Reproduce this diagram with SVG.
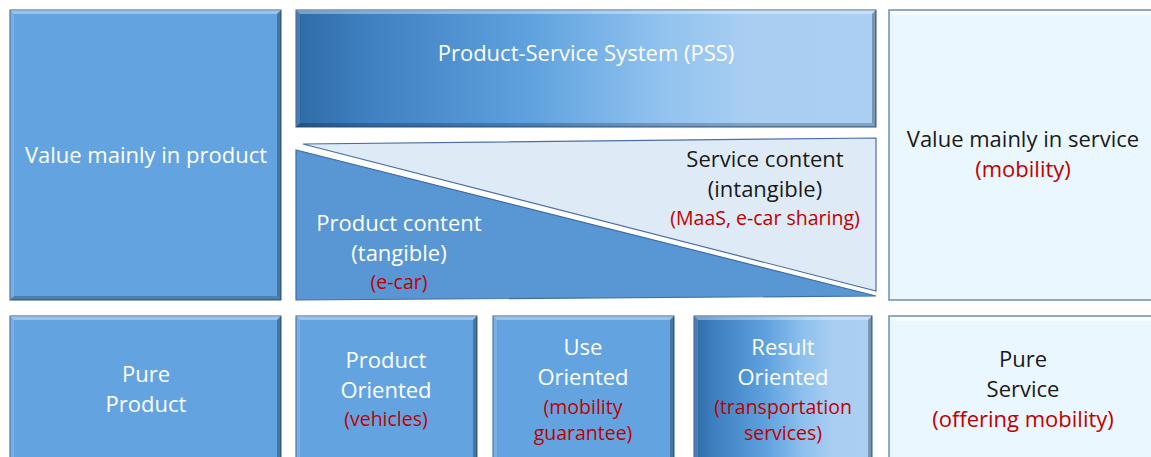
<svg xmlns="http://www.w3.org/2000/svg" width="1151" height="457" viewBox="0 0 1151 457">
<defs>
<linearGradient id="pssGrad" x1="0" y1="0" x2="1" y2="0">
<stop offset="0" stop-color="#2E6BA6"/>
<stop offset="0.12" stop-color="#3F80C0"/>
<stop offset="0.4" stop-color="#5EA1DE"/>
<stop offset="0.62" stop-color="#8FC1EE"/>
<stop offset="0.78" stop-color="#A9CEF2"/>
<stop offset="1" stop-color="#AACFF2"/>
</linearGradient>
<style>
.blue{fill:#63A4E0;stroke:#2F5B88;stroke-width:1}
.grad{fill:url(#pssGrad);stroke:#2F5B88;stroke-width:1}
.light{fill:#EBF7FE;stroke:#6F8DB5;stroke-width:1.5}
.bt{fill:#FFFFFF;fill-opacity:0.35}
.bl{fill:#FFFFFF;fill-opacity:0.12}
.br{fill:#000000;fill-opacity:0.28}
.bb{fill:#000000;fill-opacity:0.22}
.lt{fill:#FFFFFF;fill-opacity:0.6}
text{font-family:"Open Sans","Noto Sans","Liberation Sans",sans-serif;text-anchor:middle;font-size:22px}
.w{fill:#FFFFFF}
.k{fill:#1A1A1A}
.r{fill:#C00000}
.s{font-size:19.5px}
</style>
</defs>

<g id="value-product">
<rect class="blue" x="10" y="10" width="271" height="290"/>
<polygon class="bt" points="10,10 281,10 277,14 14,14"/>
<polygon class="bl" points="10,10 14,14 14,296 10,300"/>
<polygon class="br" points="281,10 281,300 277,296 277,14"/>
<polygon class="bb" points="10,300 281,300 277,296 14,296"/>
<text class="w" x="146" y="163">Value mainly in product</text>
</g>

<g id="pss">
<rect class="grad" x="296" y="10" width="580" height="117"/>
<polygon class="bt" points="296,10 876,10 872,14 300,14"/>
<polygon class="bl" points="296,10 300,14 300,123 296,127"/>
<polygon class="br" points="876,10 876,127 872,123 872,14"/>
<polygon class="bb" points="296,127 876,127 872,123 300,123"/>
<text class="w" x="586" y="61">Product-Service System (PSS)</text>
</g>

<g id="service-content">
<polygon points="303,144 876,138 876,291" fill="#DEEBF7" stroke="#4A6DA7" stroke-width="1.2"/>
<text class="k" x="765" y="167">Service content</text>
<text class="k" x="765" y="197">(intangible)</text>
<text class="r s" x="765" y="225">(MaaS, e-car sharing)</text>
</g>

<g id="product-content">
<polygon points="296,150 296,300 876,296" fill="#5897D4" stroke="#3D6FA3" stroke-width="1.2"/>
<text class="w" x="399" y="231">Product content</text>
<text class="w" x="399" y="261">(tangible)</text>
<text class="r s" x="399" y="289">(e-car)</text>
</g>

<g id="value-service">
<rect class="light" x="889" y="10" width="275" height="290"/>
<polygon class="lt" points="890,11 1164,11 1164,15 894,15"/>
<text class="k" x="1023" y="147">Value mainly in service</text>
<text class="r" x="1023" y="177">(mobility)</text>
</g>

<g id="pure-product">
<rect class="blue" x="10" y="316" width="271" height="150"/>
<polygon class="bt" points="10,316 281,316 277,320 14,320"/>
<polygon class="bl" points="10,316 14,320 14,462 10,466"/>
<polygon class="br" points="281,316 281,466 277,462 277,320"/>
<text class="w" x="146" y="382">Pure</text>
<text class="w" x="146" y="412">Product</text>
</g>

<g id="product-oriented">
<rect class="blue" x="296" y="316" width="181" height="150"/>
<polygon class="bt" points="296,316 477,316 473,320 300,320"/>
<polygon class="bl" points="296,316 300,320 300,462 296,466"/>
<polygon class="br" points="477,316 477,466 473,462 473,320"/>
<text class="w" x="386" y="368">Product</text>
<text class="w" x="386" y="398">Oriented</text>
<text class="r s" x="386" y="426">(vehicles)</text>
</g>

<g id="use-oriented">
<rect class="blue" x="493" y="316" width="181" height="150"/>
<polygon class="bt" points="493,316 674,316 670,320 497,320"/>
<polygon class="bl" points="493,316 497,320 497,462 493,466"/>
<polygon class="br" points="674,316 674,466 670,462 670,320"/>
<text class="w" x="583" y="355">Use</text>
<text class="w" x="583" y="385">Oriented</text>
<text class="r s" x="583" y="414">(mobility</text>
<text class="r s" x="583" y="440">guarantee)</text>
</g>

<g id="result-oriented">
<rect class="grad" x="694" y="316" width="178" height="150"/>
<polygon class="bt" points="694,316 872,316 868,320 698,320"/>
<polygon class="bl" points="694,316 698,320 698,462 694,466"/>
<polygon class="br" points="872,316 872,466 868,462 868,320"/>
<text class="w" x="783" y="355">Result</text>
<text class="w" x="783" y="385">Oriented</text>
<text class="r s" x="783" y="414">(transportation</text>
<text class="r s" x="783" y="440">services)</text>
</g>

<g id="pure-service">
<rect class="light" x="889" y="316" width="275" height="150"/>
<polygon class="lt" points="890,317 1164,317 1164,321 894,321"/>
<text class="k" x="1023" y="367">Pure</text>
<text class="k" x="1023" y="397">Service</text>
<text class="r" x="1023" y="427">(offering mobility)</text>
</g>

<g id="connectors"></g>
</svg>
